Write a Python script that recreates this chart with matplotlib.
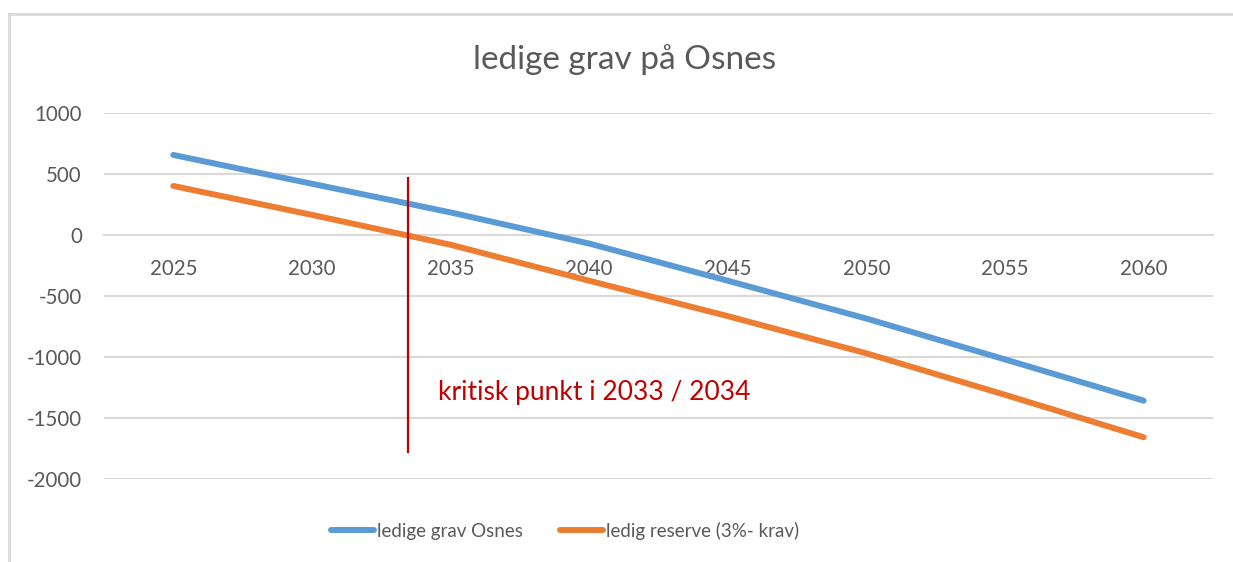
import matplotlib.pyplot as plt
from matplotlib.lines import Line2D

# data
years = ["2025", "2030", "2035", "2040", "2045", "2050", "2055", "2060"]
ledige_grav = [656, 420, 185, -70, -375, -685, -1020, -1358]
ledig_reserve = [402, 165, -80, -375, -665, -970, -1310, -1658]

# critical marker (position in category units, y range)
kritisk_x = 1.69
kritisk_y = [467, -1779]
kritisk_label = "kritisk punkt i 2033 / 2034"
kritisk_label_pos = (1.91, -1295)

plt.rcParams['font.family'] = ['Lato', 'DejaVu Sans']
plt.rcParams['axes.unicode_minus'] = False
grey = '#595959'
blue = '#5B9BD5'
orange = '#ED7D31'
red = '#C00000'

fig = plt.figure(figsize=(12.33, 5.62), dpi=100)
ax = fig.add_axes([104 / 1233, 1 - 479 / 562, (1213 - 104) / 1233, (479 - 113) / 562])

x = list(range(len(years)))
ax.plot(x, ledige_grav, color=blue, lw=4.3, solid_capstyle='round', label='ledige grav Osnes', zorder=3)
ax.plot(x, ledig_reserve, color=orange, lw=4.3, solid_capstyle='round', label='ledig reserve (3%- krav)', zorder=3)

ax.plot([kritisk_x, kritisk_x], kritisk_y, color=red, lw=1.6, zorder=4)
ax.text(kritisk_label_pos[0], kritisk_label_pos[1], kritisk_label, color=red,
        fontsize=19, va='center', ha='left')

ax.set_xlim(-0.5, len(years) - 0.5)
ax.set_ylim(-2000, 1000)
ax.set_yticks(range(-2000, 1001, 500))
ax.set_xticks(x)
ax.set_xticklabels(years)

for s in ['top', 'right', 'left']:
    ax.spines[s].set_visible(False)
ax.spines['bottom'].set_position(('data', 0))
ax.spines['bottom'].set_color('#D9D9D9')
ax.spines['bottom'].set_linewidth(1.5)

ax.tick_params(axis='x', length=0, pad=17, labelsize=14.8, labelcolor=grey)
ax.tick_params(axis='y', length=0, pad=16, labelsize=14.8, labelcolor=grey)
ax.yaxis.grid(True, color='#D9D9D9', lw=1.5)
ax.set_axisbelow(True)

fig.text(625 / 1233, 1 - 60 / 562, 'ledige grav på Osnes', ha='center', va='center',
         fontsize=24, color=grey)

leg = fig.legend(loc='center', bbox_to_anchor=(565 / 1233, 1 - 531 / 562), ncol=2,
                 frameon=False, fontsize=13.5, handlelength=2.3, handletextpad=0.15,
                 columnspacing=2.0)
for t in leg.get_texts():
    t.set_color(grey)

# outer chart border (top and left visible in the reference)
fig.add_artist(Line2D([9 / 1233, 1], [1 - 14 / 562, 1 - 14 / 562], color='#D9D9D9', lw=2))
fig.add_artist(Line2D([9 / 1233, 9 / 1233], [0, 1 - 14 / 562], color='#D9D9D9', lw=2))

fig.savefig('out.png', dpi=100)
